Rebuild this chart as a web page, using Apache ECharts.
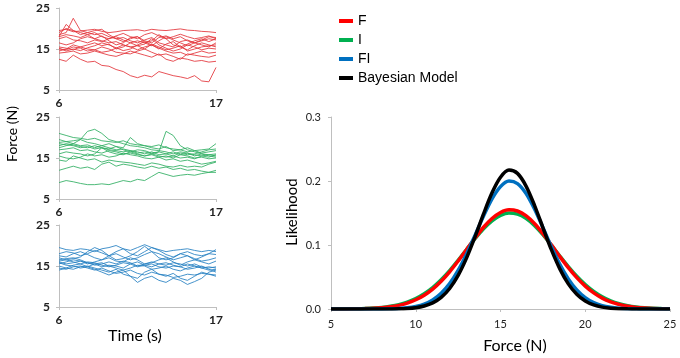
<!DOCTYPE html>
<html>
<head>
<meta charset="utf-8">
<script src="https://cdn.jsdelivr.net/npm/echarts@6/dist/echarts.min.js"></script>
<style>html,body{margin:0;padding:0;background:#fff}#c{width:680px;height:358px}</style>
</head>
<body>
<div id="c"></div>
<script>
// ---- time-course panels ----
const TIME = [6,6.5,7,7.5,8,8.5,9,9.5,10,10.5,11,11.5,12,12.5,13,13.5,14,14.5,15,15.5,16,16.5,17];

const F_TRACES = [
  [19.5,19.8,19.2,19.4,19.6,19.8,19.3,19.0,19.2,19.5,19.6,19.7,19.4,19.8,19.6,19.5,19.7,19.9,19.6,19.5,19.3,19.2,19.0],
  [12.5,12.0,13.5,12.5,11.8,12.0,11.0,10.8,10.0,9.5,8.5,8.0,8.6,8.2,9.5,9.0,8.5,8.2,7.8,8.5,7.2,7.0,10.5],
  [18.0,21.0,19.5,19.0,18.5,17.5,17.0,16.5,16.8,16.0,15.5,15.8,15.0,16.2,15.5,14.8,15.2,15.8,14.5,15.0,15.5,15.8,16.0],
  [18.5,19.0,22.5,19.5,19.0,18.5,18.8,18.0,17.5,17.8,17.0,16.5,17.2,17.8,16.5,16.0,15.5,16.8,17.2,16.5,17.0,17.5,17.2],
  [15.0,14.8,15.5,15.2,14.5,14.8,15.5,15.0,14.2,14.0,13.8,14.5,15.0,14.2,13.5,13.8,13.2,12.5,13.8,13.5,13.2,13.0,13.5],
  [19.0,20.0,19.5,18.5,19.0,19.5,19.8,18.5,17.5,16.8,17.5,18.0,16.5,17.0,18.5,17.5,16.0,15.5,16.2,17.0,17.5,16.8,17.5],
  [15.5,15.2,14.8,15.5,16.0,16.5,15.8,16.2,15.0,15.5,16.5,15.8,16.2,17.5,16.0,15.2,14.5,15.0,16.0,15.5,14.8,15.2,15.0],
  [17.5,18.0,17.2,17.0,16.5,17.2,16.8,17.5,18.0,17.2,16.5,17.0,16.5,15.8,17.0,18.0,17.2,16.5,15.8,16.5,16.0,15.5,16.5],
  [14.5,15.0,16.0,15.5,15.0,14.8,14.2,14.5,15.2,16.0,15.5,14.8,15.5,16.0,15.2,14.5,14.0,14.2,13.5,14.0,14.5,14.0,14.2],
  [16.5,16.0,16.5,17.5,18.0,17.5,18.2,17.0,16.0,16.5,17.8,18.0,17.0,16.5,17.8,18.2,17.5,18.0,17.0,16.5,17.2,18.0,17.8],
  [14.0,14.2,14.5,13.8,14.0,14.5,14.0,13.5,13.2,13.8,14.5,14.0,13.5,13.0,13.8,12.5,12.0,12.8,12.5,12.0,12.2,11.8,12.0],
  [18.0,18.5,18.2,17.8,18.5,19.0,18.0,17.5,18.2,18.8,18.0,17.5,18.5,19.0,18.2,17.5,18.0,18.6,18.0,17.5,17.8,18.2,17.5],
  [15.2,14.5,15.0,14.6,15.3,15.8,16.5,16.0,15.3,14.6,15.0,16.0,16.8,16.0,15.0,16.2,16.8,15.5,14.8,15.8,16.5,16.0,15.5]
];

const I_TRACES = [
  [21.0,20.5,20.0,19.8,19.5,19.8,19.2,19.0,18.8,19.2,18.5,18.2,18.0,17.8,18.2,17.5,17.2,17.0,17.5,16.8,17.0,17.2,18.5],
  [17.5,18.0,18.5,19.5,21.5,22.0,21.0,19.5,19.0,18.5,18.0,17.8,17.5,17.0,16.8,16.5,16.0,16.5,16.2,15.8,15.5,15.8,16.0],
  [18.5,18.2,18.0,17.5,17.8,17.2,17.5,17.0,16.8,16.5,16.8,16.2,16.5,16.0,16.5,21.5,20.5,18.0,17.0,16.5,16.0,15.8,15.5],
  [9.0,9.5,9.2,8.8,8.5,8.5,8.7,8.5,9.0,9.5,9.2,9.8,9.5,10.5,11.5,11.0,10.5,10.8,11.0,10.8,11.2,11.5,11.5],
  [12.0,12.5,13.0,12.5,12.8,12.2,13.5,14.0,13.0,13.5,13.2,12.8,12.5,13.0,12.5,12.8,12.2,12.5,12.0,12.2,11.8,11.5,12.0],
  [14.5,14.2,15.5,15.0,14.5,14.8,14.0,14.5,14.2,14.0,13.8,13.5,13.2,13.8,13.5,13.0,12.8,13.2,12.8,13.0,12.8,13.5,14.0],
  [18.8,19.0,19.2,19.5,18.8,18.5,18.0,18.5,17.8,17.5,20.0,18.5,18.0,17.5,17.2,17.8,16.8,17.0,16.5,16.8,16.2,16.5,16.8],
  [16.0,16.5,16.2,16.0,15.5,16.0,17.5,16.5,16.0,15.8,16.5,16.0,15.5,15.8,15.2,15.5,15.0,15.8,15.5,15.0,15.2,14.8,15.0],
  [18.0,18.5,18.2,17.8,17.5,18.0,17.5,17.2,17.8,17.0,16.5,17.0,16.8,16.2,16.5,16.0,16.5,15.8,16.2,15.5,16.0,15.5,15.2],
  [15.5,15.0,14.8,15.2,16.0,15.5,15.8,15.2,15.5,16.2,15.8,15.5,15.0,14.8,15.2,14.5,14.8,14.2,14.5,14.0,13.5,13.8,14.2],
  [17.0,17.2,17.5,16.8,17.0,16.5,16.2,16.8,16.5,16.0,16.2,15.8,15.5,16.0,15.5,15.2,15.5,15.0,15.2,14.8,15.5,15.2,15.8],
  [19.5,19.0,18.5,18.0,18.2,17.5,18.0,17.5,17.0,17.2,16.8,16.5,16.0,16.5,15.8,16.0,15.5,16.2,15.8,16.0,16.5,17.0,17.2]
];

const FI_TRACES = [
  [19.5,19.0,18.8,19.2,19.0,18.5,19.2,19.5,20.0,19.2,18.8,19.5,20.2,19.5,19.0,18.5,18.8,19.0,19.2,18.8,18.5,18.8,18.5],
  [18.0,18.5,18.2,17.5,18.0,18.8,18.2,17.5,18.5,19.2,18.0,17.5,18.5,19.5,18.8,17.8,17.2,18.0,18.5,17.8,17.5,18.0,17.8],
  [16.5,16.8,17.0,16.5,15.8,15.5,14.8,15.2,15.0,14.5,15.5,16.0,15.2,14.8,15.5,15.8,15.2,14.8,15.5,15.0,14.5,14.8,14.5],
  [15.0,14.5,15.2,15.5,14.8,14.2,13.5,12.8,13.5,14.0,12.5,12.0,13.5,14.2,13.0,12.5,13.2,12.0,11.5,12.5,13.5,13.0,12.5],
  [14.0,14.5,14.2,14.8,15.0,14.5,14.0,13.5,14.2,13.0,12.5,11.0,12.0,12.5,11.5,11.0,12.0,11.5,10.5,11.2,12.0,13.5,14.0],
  [17.5,17.2,18.0,18.5,17.8,17.0,16.5,17.5,18.0,17.2,16.5,17.0,17.8,18.5,18.0,17.2,16.5,17.0,17.5,16.8,16.2,16.5,17.0],
  [16.0,15.5,15.8,16.2,15.8,15.2,15.5,16.0,15.5,16.2,15.8,15.0,15.5,16.0,15.5,15.2,15.8,15.5,15.0,15.5,14.8,14.5,14.8],
  [15.5,16.0,16.5,16.2,15.5,16.0,16.5,17.0,16.2,16.0,17.0,16.5,15.5,15.8,16.5,17.0,16.0,15.2,16.0,16.5,16.0,15.5,16.2],
  [14.5,14.2,14.8,15.0,14.5,14.0,14.5,13.8,13.2,13.5,14.0,13.2,12.8,13.5,13.0,12.8,12.2,12.5,13.0,12.8,13.2,13.0,12.8],
  [17.0,16.5,16.8,17.2,18.5,19.5,18.8,17.5,16.5,16.8,17.5,18.5,19.8,18.5,17.0,16.5,17.0,18.0,17.5,16.5,17.2,18.0,19.0],
  [16.2,16.5,16.0,15.5,16.0,15.8,15.2,14.8,15.2,15.8,15.5,14.8,15.2,15.5,14.8,14.5,15.0,14.8,14.2,14.5,15.0,14.2,13.5],
  [15.8,15.2,15.0,14.5,14.8,15.5,15.8,15.0,14.5,14.0,14.5,15.2,15.0,14.2,14.5,15.0,14.2,13.8,14.5,15.0,14.5,14.0,14.2]
];

// ---- likelihood panel ----
const FORCE_X = [5,5.5,6,6.5,7,7.5,8,8.5,9,9.5,10,10.5,11,11.5,12,12.5,13,13.5,14,14.5,15,15.5,16,16.5,17,17.5,18,18.5,19,19.5,20,20.5,21,21.5,22,22.5,23,23.5,24,24.5,25];
const F_LIK = [0,0.0001,0.0001,0.0003,0.0006,0.0011,0.0020,0.0034,0.0057,0.0093,0.0144,0.0216,0.0312,0.0434,0.0581,0.0749,0.0929,0.1110,0.1277,0.1414,0.1508,0.1550,0.1531,0.1458,0.1336,0.1179,0.1002,0.0820,0.0646,0.0490,0.0358,0.0252,0.0170,0.0111,0.0070,0.0042,0.0025,0.0014,0.0007,0.0004,0.0002];
const I_LIK = [0.0001,0.0001,0.0002,0.0004,0.0008,0.0015,0.0025,0.0043,0.0069,0.0108,0.0164,0.0239,0.0336,0.0457,0.0600,0.0761,0.0930,0.1098,0.1252,0.1377,0.1462,0.1500,0.1483,0.1417,0.1306,0.1162,0.0998,0.0828,0.0663,0.0512,0.0382,0.0275,0.0191,0.0128,0.0083,0.0052,0.0031,0.0018,0.0010,0.0006,0.0003];
const FI_LIK = [0,0,0,0,0,0.0001,0.0001,0.0004,0.0009,0.0019,0.0040,0.0077,0.0142,0.0245,0.0396,0.0602,0.0859,0.1153,0.1452,0.1720,0.1912,0.2000,0.1960,0.1807,0.1565,0.1274,0.0974,0.0699,0.0471,0.0299,0.0178,0.0099,0.0052,0.0026,0.0012,0.0005,0.0002,0.0001,0,0,0];
const BAYES_LIK = [0,0,0,0,0,0,0,0.0001,0.0003,0.0009,0.0021,0.0047,0.0095,0.0181,0.0320,0.0525,0.0799,0.1131,0.1487,0.1815,0.2058,0.2170,0.2119,0.1925,0.1624,0.1273,0.0927,0.0627,0.0393,0.0230,0.0124,0.0063,0.0029,0.0013,0.0005,0.0002,0.0001,0,0,0,0];

const Y_TICKS = [5, 15, 25];
const T_TICKS = [6, 17];

const FONT = 'Lato';
const AXIS_GRAY = '#bfbfbf';

const chart = echarts.init(document.getElementById('c'));

const panelTops = [8, 117, 225];
const grids = panelTops.map(t => ({left: 59, top: t, width: 157, height: 82, containLabel: false}));
grids.push({left: 331, top: 117, width: 339, height: 192, containLabel: false});

const xAxes = [0,1,2].map(i => ({
  type: 'value', gridIndex: i, min: 6, max: 17,
  axisLine: {show: true, lineStyle: {color: AXIS_GRAY, width: 1}},
  axisTick: {show: true, length: 3, lineStyle: {color: AXIS_GRAY}, customValues: T_TICKS},
  axisLabel: {show: true, customValues: T_TICKS, color: '#222', fontFamily: FONT, fontSize: 12, fontWeight: 'bold', margin: 7},
  splitLine: {show: false}
}));
xAxes.push({
  type: 'value', gridIndex: 3, min: 5, max: 25, interval: 5,
  axisLine: {show: true, lineStyle: {color: AXIS_GRAY, width: 1}},
  axisTick: {show: true, length: 3, lineStyle: {color: AXIS_GRAY}},
  axisLabel: {color: '#222', fontFamily: FONT, fontSize: 11, margin: 10},
  splitLine: {show: false}
});

const yAxes = [0,1,2].map(i => ({
  type: 'value', gridIndex: i, min: 5, max: 25, interval: 5,
  axisLine: {show: true, lineStyle: {color: AXIS_GRAY, width: 1}},
  axisTick: {show: true, length: 3, lineStyle: {color: AXIS_GRAY}, customValues: Y_TICKS},
  axisLabel: {color: '#222', fontFamily: FONT, fontSize: 12, fontWeight: 'bold', margin: 9,
    formatter: v => Y_TICKS.includes(v) ? String(v) : ''},
  splitLine: {show: false}
}));
yAxes.push({
  type: 'value', gridIndex: 3, min: 0, max: 0.3, interval: 0.1,
  axisLine: {show: true, lineStyle: {color: AXIS_GRAY, width: 1}},
  axisTick: {show: true, length: 3, lineStyle: {color: AXIS_GRAY}},
  axisLabel: {color: '#222', fontFamily: FONT, fontSize: 11, margin: 10, formatter: v => v.toFixed(1)},
  splitLine: {show: false}
});

const series = [];
const traceSets = [[F_TRACES, '#e3343a'], [I_TRACES, '#2fae62'], [FI_TRACES, '#2680c2']];
traceSets.forEach(([set, col], i) => {
  set.forEach(tr => {
    series.push({
      type: 'line', xAxisIndex: i, yAxisIndex: i, silent: true, symbol: 'none',
      data: TIME.map((t, j) => [t, tr[j]]),
      lineStyle: {color: col, width: 1, opacity: 0.85}, itemStyle: {color: col}
    });
  });
});

function likSeries(name, vals, col) {
  return {
    name, type: 'line', xAxisIndex: 3, yAxisIndex: 3, symbol: 'none', smooth: 0.3,
    data: FORCE_X.map((x, j) => [x, vals[j]]),
    lineStyle: {color: col, width: 3.5}, itemStyle: {color: col}
  };
}
series.push(likSeries('I', I_LIK, '#00b050'));
series.push(likSeries('F', F_LIK, '#ff0000'));
series.push(likSeries('FI', FI_LIK, '#0070c0'));
series.push(likSeries('Bayesian Model', BAYES_LIK, '#000000'));

chart.setOption({
  animation: false,
  backgroundColor: '#ffffff',
  grid: grids,
  xAxis: xAxes,
  yAxis: yAxes,
  legend: {
    data: ['F', 'I', 'FI', 'Bayesian Model'],
    orient: 'vertical', left: 334, top: 9, itemWidth: 14, itemHeight: 4, itemGap: 5,
    icon: 'rect', selectedMode: false,
    textStyle: {fontFamily: 'Liberation Sans', fontSize: 14, color: '#000'}
  },
  graphic: [
    {type: 'text', x: 12.5, y: 134, rotation: Math.PI / 2,
     style: {text: 'Force (N)', font: '14px Lato', fill: '#000', align: 'center', verticalAlign: 'middle'}},
    {type: 'text', x: 135, y: 336, style: {text: 'Time (s)', font: '16px Lato', fill: '#000', align: 'center', verticalAlign: 'middle'}},
    {type: 'text', x: 292, y: 212, rotation: Math.PI / 2,
     style: {text: 'Likelihood', font: '15px Lato', fill: '#000', align: 'center', verticalAlign: 'middle'}},
    {type: 'text', x: 515, y: 346, style: {text: 'Force (N)', font: '16px Lato', fill: '#000', align: 'center', verticalAlign: 'middle'}}
  ],
  series
});
</script>
</body>
</html>
